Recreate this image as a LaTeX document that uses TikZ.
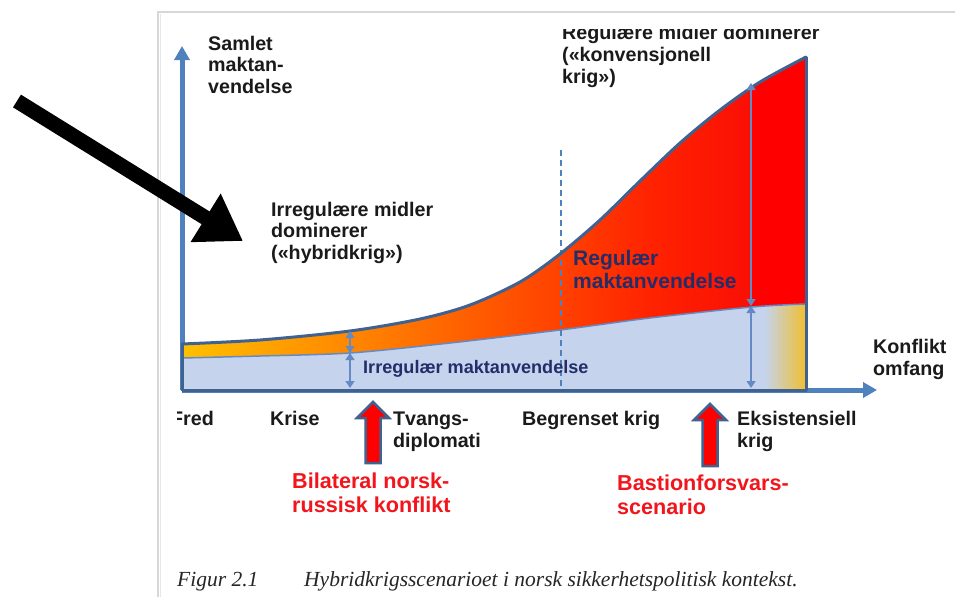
\documentclass[tikz,border=0pt]{standalone}
\usepackage{fontspec}
\setmainfont{Liberation Sans}
\newfontfamily\capfont{Liberation Serif}
\usetikzlibrary{arrows.meta}
\definecolor{axisblue}{RGB}{79,129,189}
\definecolor{edgeblue}{RGB}{63,98,145}
\definecolor{paleblue}{RGB}{197,211,236}
\definecolor{thinblue}{RGB}{100,138,198}
\definecolor{navytext}{RGB}{35,45,105}
\definecolor{labred}{RGB}{242,22,28}
\definecolor{txtblack}{RGB}{26,26,26}
\definecolor{pagegray}{RGB}{215,215,215}
\definecolor{gA}{RGB}{255,192,0}
\definecolor{gB}{RGB}{255,165,0}
\definecolor{gC}{RGB}{255,135,0}
\definecolor{gD}{RGB}{255,100,0}
\definecolor{gE}{RGB}{255,65,0}
\definecolor{gF}{RGB}{255,35,0}
\definecolor{gG}{RGB}{250,15,5}
\definecolor{gH}{RGB}{255,0,0}
\definecolor{goldend}{RGB}{242,190,40}
\tikzset{
  blk/.style={font=\bfseries\fontsize{19.7}{21.5}\selectfont, text=txtblack, inner sep=0pt, anchor=base west, align=left},
  navylab/.style={font=\bfseries\fontsize{21}{23}\selectfont, text=navytext, inner sep=0pt, anchor=base west, align=left},
  redlab/.style={font=\bfseries\fontsize{21.6}{24}\selectfont, text=labred, inner sep=0pt, anchor=base west, align=left},
  caplab/.style={font=\capfont\itshape\fontsize{21.5}{24}\selectfont, text=black!85, inner sep=0pt, anchor=base west},
  dimarrow/.style={draw=thinblue, line width=1.3pt, {Triangle[width=9pt,length=7pt]}-{Triangle[width=9pt,length=7pt]}},
  blockarrow/.style={fill=red, draw=edgeblue, line width=2.5pt, line join=miter},
}
\begin{document}
\begin{tikzpicture}[x=1pt,y=-1pt]
\useasboundingbox (0,0) rectangle (955,597);
\fill[white] (0,0) rectangle (955,597);

% page frame
\draw[pagegray, line width=1.5pt] (158,597) -- (158,12) -- (955,12);
\draw[pagegray!60, line width=1pt] (160.5,597) -- (160.5,14);

% axes
\coordinate (origin) at (182,390);
\coordinate (ytip) at (182,46);
\coordinate (xtip) at (877,390);
\draw[axisblue, line width=5pt, -{Triangle[width=15pt,length=14pt]}] (origin) -- (ytip);
\draw[axisblue, line width=5pt, -{Triangle[width=15pt,length=14pt]}] (origin) -- (xtip);

% warm gradient under upper curve
\begin{scope}
\clip (182,390) -- (182,344) -- plot[smooth] coordinates {(182,344) (260,340) (350,331) (420,319) (470,305) (520,282) (560,254) (600,220) (640,181) (680,143) (720,110) (760,82) (806,57)} -- (806,390) -- cycle;
\fill[left color=gA, right color=gB] (181,40) rectangle (260.5,395);
\fill[left color=gB, right color=gC] (260,40) rectangle (350.5,395);
\fill[left color=gC, right color=gD] (350,40) rectangle (450.5,395);
\fill[left color=gD, right color=gE] (450,40) rectangle (560.5,395);
\fill[left color=gE, right color=gF] (560,40) rectangle (650.5,395);
\fill[left color=gF, right color=gG] (650,40) rectangle (750.5,395);
\fill[gH] (750,40) rectangle (807,395);
\end{scope}

% pale blue region under lower curve
\begin{scope}
\clip (182,390) -- (182,358) -- plot[smooth] coordinates {(182,358) (260,356) (350,353) (450,343) (560,330) (650,318) (752,307) (806,304)} -- (806,390) -- cycle;
\fill[paleblue] (181,290) rectangle (766,395);
\fill[left color=paleblue, right color=goldend] (765,290) rectangle (807,395);
\end{scope}
\draw[thinblue, line width=1.5pt] plot[smooth] coordinates {(182,358) (260,356) (350,353) (450,343) (560,330) (650,318) (752,307) (806,304)};

% dashed separator
\coordinate (dashtop) at (561,150);
\coordinate (dashbot) at (561,390);
\draw[axisblue, line width=1.6pt, dash pattern=on 6pt off 4pt] (dashtop) -- (dashbot);

% area outline
\draw[edgeblue, line width=3pt, line join=round] (182,344) -- (182,390) -- (806,390) -- (806,57);
\draw[edgeblue, line width=3pt, line cap=round] plot[smooth] coordinates {(182,344) (260,340) (350,331) (420,319) (470,305) (520,282) (560,254) (600,220) (640,181) (680,143) (720,110) (760,82) (806,57)};

% dimension arrows
\coordinate (a1top) at (350,331);
\coordinate (a1mid) at (350,353);
\coordinate (a1bot) at (350,388);
\coordinate (a2top) at (751,83);
\coordinate (a2mid) at (751,306);
\coordinate (a2bot) at (751,388);
\draw[dimarrow] (a1top) -- (a1mid);
\draw[dimarrow] (a1mid) -- (a1bot);
\draw[dimarrow] (a2top) -- (a2mid);
\draw[dimarrow] (a2mid) -- (a2bot);

% block arrows
\draw[blockarrow] (373,402) -- (389,418) -- (380.5,418) -- (380.5,463) -- (365.5,463) -- (365.5,418) -- (357,418) -- cycle;
\draw[blockarrow] (710,404) -- (726,420) -- (717.5,420) -- (717.5,466) -- (702.5,466) -- (702.5,420) -- (694,420) -- cycle;

% big black arrow
\coordinate (bigS) at (17,101);
\coordinate (bigT) at (243,241);
\draw[black, line width=15pt, -{Triangle[width=54pt,length=44pt]}] (bigS) -- (bigT);

% labels (anchor = baseline of last line)
\node[blk] (samlet) at (208,93) {Samlet\\maktan-\\vendelse};
\node[blk] (irrmid) at (271,259) {Irregulære midler\\dominerer\\(«hybridkrig»)};
\begin{scope}
\clip (500,29) rectangle (955,120);
\node[blk, font=\bfseries\fontsize{19.7}{22}\selectfont] (regmid) at (562,83) {Regulære midler dominerer\\(«konvensjonell\\krig»)};
\end{scope}
\node[navylab] (regul) at (573,288) {Regulær\\maktanvendelse};
\node[navylab, font=\bfseries\fontsize{18.1}{20}\selectfont] (irreg) at (363,373) {Irregulær maktanvendelse};
\node[blk] (konf) at (873,375) {Konflikt\\omfang};

\begin{scope}
\clip (177,380) rectangle (260,460);
\node[blk] (fred) at (171,425) {Fred};
\end{scope}
\node[blk] (krise) at (270,425) {Krise};
\node[blk] (tvang) at (393,447) {Tvangs-\\diplomati};
\node[blk] (begr) at (522,425) {Begrenset krig};
\node[blk] (eksi) at (737,447) {Eksistensiell\\krig};

\node[redlab] (bilat) at (292,512) {Bilateral norsk-\\russisk konflikt};
\node[redlab] (bast) at (617,514) {Bastionforsvars-\\scenario};

\node[caplab] (fig) at (177,586) {Figur 2.1};
\node[caplab] (capt) at (304,586) {Hybridkrigsscenarioet i norsk sikkerhetspolitisk kontekst.};
\end{tikzpicture}
\end{document}
